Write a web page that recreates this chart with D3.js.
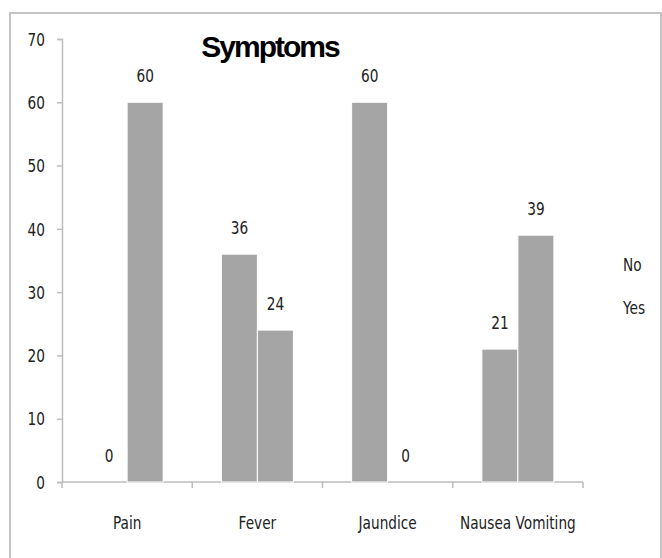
<!DOCTYPE html>
<html>
<head>
<meta charset="utf-8">
<script src="https://cdn.jsdelivr.net/npm/d3@7"></script>
<style>
  html, body { margin: 0; padding: 0; background: #fff; }
  svg { display: block; }
  .lbl { font-family: "DejaVu Sans", sans-serif; fill: #222; font-size: 18px; }
</style>
</head>
<body>
<svg id="chart" width="662" height="558"></svg>
<script>
const categories = ["Pain", "Fever", "Jaundice", "Nausea Vomiting"];
const seriesNames = ["No", "Yes"];
const noValues = [0, 36, 60, 21];
const yesValues = [60, 24, 0, 39];
const yTicks = [0, 10, 20, 30, 40, 50, 60, 70];
const title = "Symptoms";

const SX = 0.76; // horizontal squeeze of the text, as in the picture
const svg = d3.select("#chart");
const plotL = 62, plotR = 583, plotT = 39, plotB = 482;

// place a narrow text at (px, py)
function narrow(sel, px, py) {
  sel.attr("x", 0).attr("y", 0)
     .attr("transform", (d, i) => `translate(${px(d, i)},${py(d, i)}) scale(${SX},1)`);
}

// frame
svg.append("rect").attr("x", 10).attr("y", 13).attr("width", 651).attr("height", 560)
  .attr("fill", "none").attr("stroke", "#c4c4c4").attr("stroke-width", 2);

const x = d3.scaleBand().domain(categories).range([plotL, plotR]).padding(0);
const x1 = d3.scaleBand().domain(seriesNames).range([0, 72]).padding(0);
const y = d3.scaleLinear().domain([0, 70]).range([plotB, plotT]);

const rows = categories.map((c, i) => ({ cat: c, values: [
  { key: "No", v: noValues[i] }, { key: "Yes", v: yesValues[i] } ] }));

// y axis
const yAxis = svg.append("g").attr("transform", `translate(${plotL},0)`)
  .call(d3.axisLeft(y).tickValues(yTicks).tickSize(5).tickPadding(12).tickFormat(d3.format("d")));
yAxis.select(".domain").attr("stroke", "#bdbdbd").attr("stroke-width", 1.5);
yAxis.selectAll(".tick line").attr("stroke", "#bdbdbd").attr("stroke-width", 1.5);
yAxis.selectAll(".tick text").attr("class", "lbl").attr("dy", null)
  .attr("dominant-baseline", "central")
  .call(narrow, () => -17, () => 0);

// x axis line & ticks at category boundaries
const xg = svg.append("g");
xg.append("line").attr("x1", plotL).attr("x2", plotR).attr("y1", y(0)).attr("y2", y(0))
  .attr("stroke", "#bdbdbd").attr("stroke-width", 1.5);
const bounds = categories.map(c => x(c)).concat([x.range()[1]]);
xg.selectAll("line.tk").data(bounds).join("line").attr("class", "tk")
  .attr("x1", d => d).attr("x2", d => d).attr("y1", y(0)).attr("y2", y(0) + 6)
  .attr("stroke", "#bdbdbd").attr("stroke-width", 1.5);
xg.selectAll("text").data(categories).join("text").attr("class", "lbl")
  .attr("text-anchor", "middle").text(d => d)
  .call(narrow, d => x(d) + x.bandwidth() / 2, () => y(0) + 47);

// bars
const groups = svg.append("g").selectAll("g").data(rows).join("g")
  .attr("transform", d => `translate(${x(d.cat) + x.bandwidth() / 2 - 36},0)`);
groups.selectAll("rect").data(d => d.values).join("rect")
  .attr("x", d => x1(d.key)).attr("width", x1.bandwidth())
  .attr("y", d => y(d.v)).attr("height", d => y(0) - y(d.v))
  .attr("fill", "#a5a5a5").attr("stroke", "#ffffff").attr("stroke-width", 1);
groups.selectAll("text").data(d => d.values).join("text").attr("class", "lbl")
  .attr("text-anchor", "middle").text(d => d.v)
  .call(narrow, d => x1(d.key) + x1.bandwidth() / 2, d => y(d.v) - 20);

// title
svg.append("text").attr("x", 270).attr("y", 57).attr("text-anchor", "middle")
  .style("font-family", "Liberation Sans, Arial, sans-serif").style("font-weight", "bold")
  .style("font-size", "30px").style("letter-spacing", "-2px").attr("fill", "#000").text(title);

// legend (text only)
svg.append("g").selectAll("text").data(seriesNames).join("text").attr("class", "lbl")
  .text(d => d)
  .call(narrow, () => 623, (d, i) => 271 + i * 43);
</script>
</body>
</html>
